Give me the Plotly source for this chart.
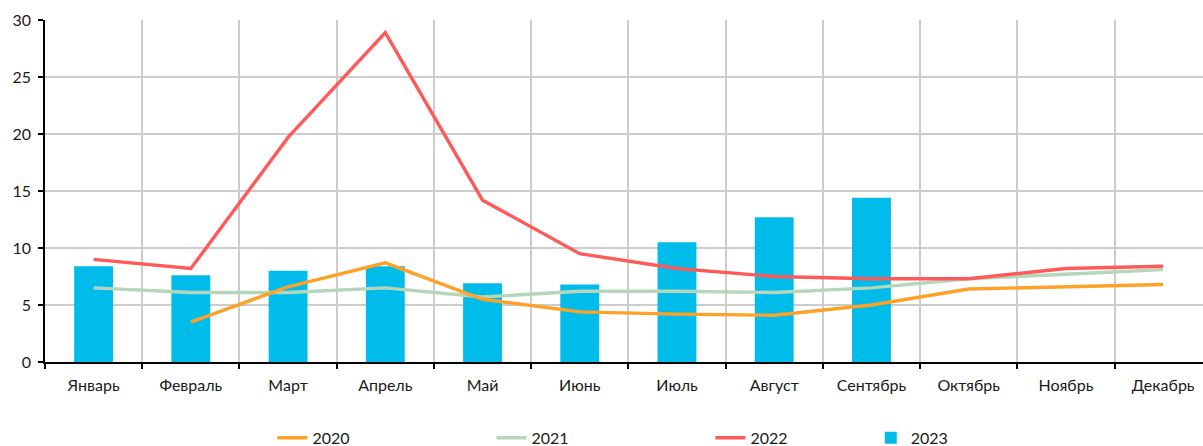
import plotly.graph_objects as go

months = ["Январь", "Февраль", "Март", "Апрель", "Май", "Июнь", "Июль",
          "Август", "Сентябрь", "Октябрь", "Ноябрь", "Декабрь"]
y2020 = [None, 3.5, 6.6, 8.7, 5.5, 4.4, 4.2, 4.1, 5.0, 6.4, 6.6, 6.8]
y2021 = [6.5, 6.1, 6.1, 6.5, 5.7, 6.2, 6.2, 6.1, 6.5, 7.3, 7.7, 8.1]
y2022 = [9.0, 8.2, 19.7, 28.9, 14.2, 9.5, 8.2, 7.5, 7.3, 7.3, 8.2, 8.4]
y2023 = [8.4, 7.6, 8.0, 8.4, 6.9, 6.8, 10.5, 12.7, 14.4, None, None, None]
y_ticks = [0, 5, 10, 15, 20, 25, 30]

FONT = "Lato"

fig = go.Figure()
fig.add_trace(go.Bar(x=months, y=y2023, name="2023", marker=dict(color="#00BCEB", line=dict(width=0)),
                     width=0.4, legend="legend2"))
fig.add_trace(go.Scatter(x=months, y=y2021, name="2021", mode="lines",
                         line=dict(color="#B6D6B9", width=3.4), legendrank=2))
fig.add_trace(go.Scatter(x=months, y=y2020, name="2020", mode="lines",
                         line=dict(color="#FFA126", width=3.4), legendrank=1))
fig.add_trace(go.Scatter(x=months, y=y2022, name="2022", mode="lines",
                         line=dict(color="#FF5A5A", width=3.4), legendrank=3))

fig.update_layout(
    width=1203, height=446,
    margin=dict(l=45, r=0, t=20, b=84, autoexpand=False),
    paper_bgcolor="white", plot_bgcolor="white",
    font=dict(family=FONT, size=16, color="#1a1a1a"),
    showlegend=True,
    legend=dict(orientation="h", x=0.1964, xanchor="left", y=-0.222, yanchor="middle",
                entrywidth=174, entrywidthmode="pixels", font=dict(size=16),
                traceorder="normal"),
    legend2=dict(orientation="h", x=0.7131, xanchor="left", y=-0.222, yanchor="middle",
                 font=dict(size=16)),
    bargap=0.6,
)
fig.update_xaxes(
    type="category", range=[-0.5, 11.41], tickson="boundaries", automargin=False,
    showgrid=True, gridcolor="#CCCCCC", gridwidth=1.5,
    showline=True, linecolor="#000000", linewidth=1.5,
    ticks="outside", ticklen=5, tickcolor="#000000", tickwidth=1.5,
    ticklabelstandoff=8,
)
fig.update_yaxes(
    range=[0, 30], tickvals=y_ticks, ticktext=[str(v) for v in y_ticks], automargin=False,
    showgrid=True, gridcolor="#CCCCCC", gridwidth=1.5, zeroline=False,
    showline=True, linecolor="#000000", linewidth=1.5,
    ticks="outside", ticklen=5, tickcolor="#000000", tickwidth=1.5,
    ticklabelstandoff=4,
)
fig.write_html("out.html", config={"displayModeBar": False},
               post_script="document.body.style.margin='0';document.body.style.overflow='hidden';")
